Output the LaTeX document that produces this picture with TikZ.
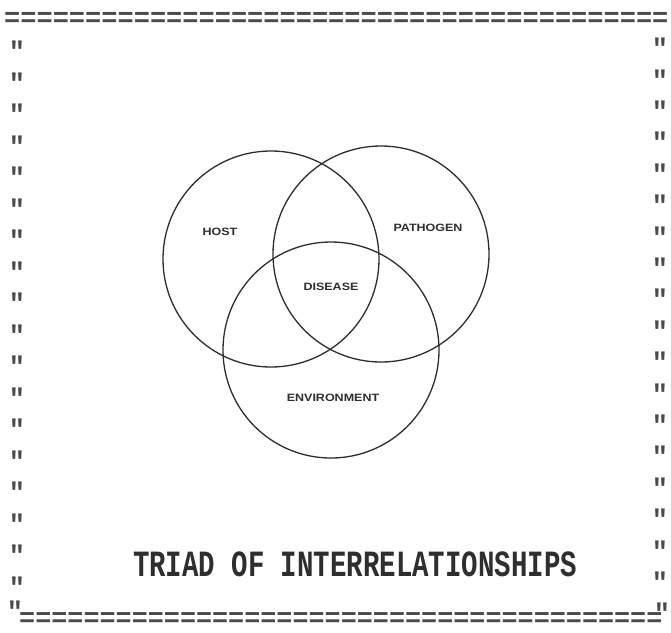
\documentclass[tikz,border=0pt]{standalone}
\usepackage{fontspec}
\usepackage{graphicx}
\newfontfamily\typew{Liberation Mono}
\newfontfamily\lblfont{Liberation Sans}
\definecolor{ink}{HTML}{2E2E2E}
\definecolor{bordink}{HTML}{4A4A4A}
\tikzset{
  ring/.style={circle, draw=ink, line width=1.3pt, inner sep=0pt, minimum size=216pt},
  lbl/.style={inner sep=0pt, text=ink, font=\lblfont\bfseries\fontsize{12.5}{14}\selectfont},
  bordrow/.style={inner sep=0pt, text=bordink, font=\typew\bfseries\fontsize{27}{27}\selectfont, anchor=west},
  bordq/.style={inner sep=0pt, text=bordink, font=\typew\bfseries\fontsize{27}{27}\selectfont, anchor=north},
  titletext/.style={inner sep=0pt, text=ink, font=\typew\bfseries\fontsize{27.4}{28}\selectfont}
}
\begin{document}
\begin{tikzpicture}[x=1pt,y=-1pt]
\useasboundingbox[fill=white] (0,0) rectangle (671,632);
% top and bottom rows
\node[bordrow] (toprow) at (4,19) {=========================================};
\node[bordrow] (botrow) at (19,620) {\fontsize{26.8}{27}\selectfont ========================================};
% side columns
\foreach \i in {0,...,17} {
  \node[bordq] (lq\i) at (17,{41+31.5*\i}) {"};
  \node[bordq] (rq\i) at (660,{38+31.4*\i}) {"};
}
\node[bordq] (lqlast) at (15,601) {"};
\node[bordq] (rqlast) at (662,603) {"};
% circles
\node[ring] (host) at (271,259) {};
\node[ring] (pathogen) at (381,254) {};
\node[ring] (environment) at (331,350) {};
% labels
\node[lbl] (hostlbl) at (220,232) {\scalebox{1}[0.85]{HOST}};
\node[lbl] (pathlbl) at (428,228) {\scalebox{1}[0.85]{PATHOGEN}};
\node[lbl] (dislbl) at (331,287) {\scalebox{1}[0.85]{DISEASE}};
\node[lbl] (envlbl) at (333,398) {\scalebox{1}[0.85]{ENVIRONMENT}};
% title
\node[titletext] (title) at (355,564) {\scalebox{1}[1.35]{TRIAD OF INTERRELATIONSHIPS}};
\end{tikzpicture}
\end{document}
